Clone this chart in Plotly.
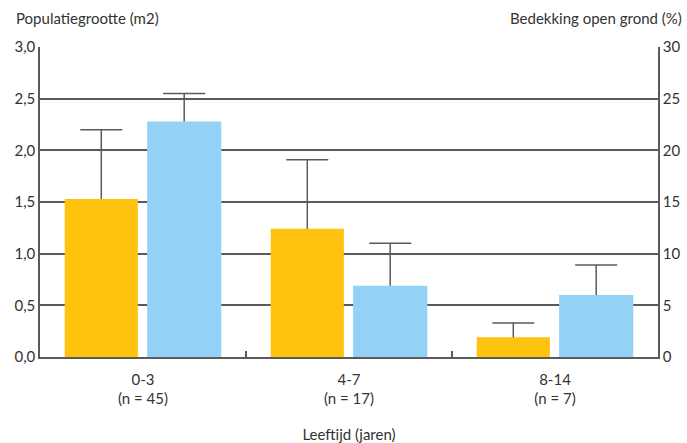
import plotly.graph_objects as go

categories = ["0-3<br>(n = 45)", "4-7<br>(n = 17)", "8-14<br>(n = 7)"]
populatie = [1.53, 1.24, 0.19]
populatie_err = [0.67, 0.67, 0.14]
bedekking = [22.8, 6.9, 6.0]
bedekking_err = [2.7, 4.1, 2.9]
left_ticks = [0, 0.5, 1.0, 1.5, 2.0, 2.5, 3.0]
left_labels = ["0,0", "0,5", "1,0", "1,5", "2,0", "2,5", "3,0"]
right_ticks = [0, 5, 10, 15, 20, 25, 30]

FONT = "Lato"
TXT = "#333333"
LINE = "#5a5a5a"
YELLOW = "#FFC20E"
BLUE = "#94D1F6"

# bar geometry (in category units)
W1, OFF1 = 0.355, -0.38
W2, OFF2 = 0.36, 0.02

fig = go.Figure()
fig.add_trace(go.Bar(
    x=categories, y=populatie, yaxis="y", marker_color=YELLOW,
    width=W1, offset=OFF1, marker_line_width=0,
    error_y=dict(type="data", array=populatie_err, arrayminus=[0]*3,
                 symmetric=False, color=LINE, thickness=1.5, width=0),
    showlegend=False, hoverinfo="skip"))
fig.add_trace(go.Bar(
    x=categories, y=bedekking, yaxis="y2", marker_color=BLUE,
    width=W2, offset=OFF2, marker_line_width=0,
    error_y=dict(type="data", array=bedekking_err, arrayminus=[0]*3,
                 symmetric=False, color=LINE, thickness=1.5, width=0),
    showlegend=False, hoverinfo="skip"))

# error bar caps (top only), on a hidden linear x axis aligned with the categories
idx = list(range(len(categories)))
fig.add_trace(go.Scatter(
    x=[i + OFF1 + W1 / 2 for i in idx],
    y=[v + e for v, e in zip(populatie, populatie_err)],
    xaxis="x2", yaxis="y", mode="markers",
    marker=dict(symbol="line-ew", size=30, line=dict(color=LINE, width=1.5)),
    showlegend=False, hoverinfo="skip"))
fig.add_trace(go.Scatter(
    x=[i + OFF2 + W2 / 2 for i in idx],
    y=[v + e for v, e in zip(bedekking, bedekking_err)],
    xaxis="x2", yaxis="y2", mode="markers",
    marker=dict(symbol="line-ew", size=30, line=dict(color=LINE, width=1.5)),
    showlegend=False, hoverinfo="skip"))

fig.update_layout(
    width=687, height=443,
    margin=dict(l=40, r=29, t=47, b=86),
    plot_bgcolor="white", paper_bgcolor="white",
    font=dict(family=FONT, size=14, color=TXT),
    xaxis=dict(
        type="category", range=[-0.5, 2.5], showgrid=False, automargin=False,
        showline=True, linecolor=LINE, linewidth=1.5,
        ticks="inside", tickson="boundaries", ticklen=6, tickcolor=LINE, tickwidth=1.5,
        tickfont=dict(size=15, color=TXT), ticklabelstandoff=8,
        title=dict(text="Leeftijd (jaren)", font=dict(size=15, color=TXT), standoff=28),
    ),
    xaxis2=dict(
        overlaying="x", range=[-0.5, 2.5], visible=False, showgrid=False,
    ),
    yaxis=dict(
        range=[0, 3.0], tickvals=left_ticks, ticktext=left_labels, automargin=False,
        showgrid=True, gridcolor=LINE, gridwidth=1.5,
        showline=True, linecolor=LINE, linewidth=1.5,
        zeroline=False, ticks="", tickfont=dict(size=15, color=TXT),
    ),
    yaxis2=dict(
        range=[0, 30], tickvals=right_ticks, overlaying="y", side="right",
        automargin=False, showgrid=False, showline=True, linecolor=LINE, linewidth=1.5,
        zeroline=False, ticks="", tickfont=dict(size=15, color=TXT),
    ),
    annotations=[
        dict(text="Populatiegrootte (m2)", xref="paper", yref="paper",
             x=0, xshift=-26, y=1.0, yshift=29, xanchor="left", yanchor="middle",
             showarrow=False, font=dict(size=15, color=TXT)),
        dict(text="Bedekking open grond (%)", xref="paper", yref="paper",
             x=1, xshift=26, y=1.0, yshift=29, xanchor="right", yanchor="middle",
             showarrow=False, font=dict(size=15, color=TXT)),
    ],
)

fig.write_html("out.html", config={"displayModeBar": False},
               post_script="document.body.style.margin='0';")
